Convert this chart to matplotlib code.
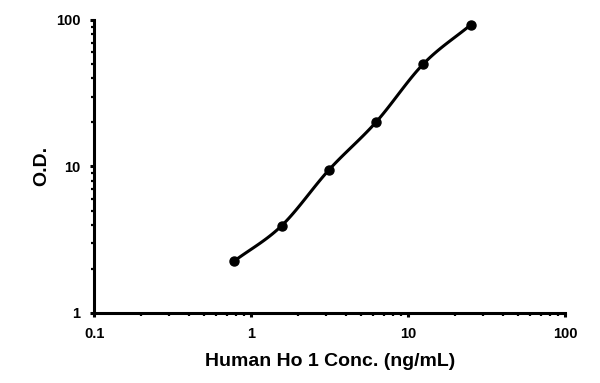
import numpy as np
import matplotlib
matplotlib.use('Agg')
import matplotlib.pyplot as plt

# standard curve values
conc = [0.78, 1.56, 3.125, 6.25, 12.5, 25.0]
od = [2.26, 3.93, 9.46, 20.1, 50.1, 92.5]

x_label = 'Human Ho 1 Conc. (ng/mL)'
y_label = 'O.D.'


def smooth_log(xs, ys, n=20):
    # Catmull-Rom through the points in log-log space, for the drawn line only
    lx = np.log10(xs)
    ly = np.log10(ys)
    px = np.concatenate([[2 * lx[0] - lx[1]], lx, [2 * lx[-1] - lx[-2]]])
    py = np.concatenate([[2 * ly[0] - ly[1]], ly, [2 * ly[-1] - ly[-2]]])
    ox, oy = [], []
    t = np.linspace(0, 1, n, endpoint=False)
    for i in range(1, len(px) - 2):
        for p, o in ((px, ox), (py, oy)):
            p0, p1, p2, p3 = p[i - 1], p[i], p[i + 1], p[i + 2]
            o.extend(0.5 * (2 * p1 + (-p0 + p2) * t
                            + (2 * p0 - 5 * p1 + 4 * p2 - p3) * t ** 2
                            + (-p0 + 3 * p1 - 3 * p2 + p3) * t ** 3))
    ox.append(lx[-1])
    oy.append(ly[-1])
    return 10 ** np.array(ox), 10 ** np.array(oy)


plt.rcParams['font.family'] = ['Liberation Sans', 'DejaVu Sans']
plt.rcParams['font.weight'] = 'bold'

fig = plt.figure(figsize=(6.0, 3.83), dpi=100)
ax = fig.add_axes([0.157, 0.183, 0.785, 0.765])

sx, sy = smooth_log(conc, od)
ax.plot(sx, sy, color='black', lw=2.2, solid_capstyle='round')
ax.plot(conc, od, 'o', color='black', ms=6.5)

ax.set_xscale('log')
ax.set_yscale('log')
ax.set_xlim(0.1, 100)
ax.set_ylim(1, 100)
ax.set_xticks([0.1, 1, 10, 100])
ax.set_xticklabels(['0.1', '1', '10', '100'])
ax.set_yticks([1, 10, 100])
ax.set_yticklabels(['1', '10', '100'])

for s in ['top', 'right']:
    ax.spines[s].set_visible(False)
for s in ['left', 'bottom']:
    ax.spines[s].set_linewidth(2.2)

ax.tick_params(which='major', length=3, width=2.2, labelsize=10.5)
ax.tick_params(axis='y', which='major', pad=7)
ax.tick_params(axis='x', which='major', pad=7)
ax.tick_params(which='minor', length=2.5, width=1.6)

ax.set_xlabel(x_label, fontsize=14, fontweight='bold', labelpad=9)
ax.set_ylabel(y_label, fontsize=14, fontweight='bold', labelpad=4)

fig.savefig('out.png', dpi=100)
